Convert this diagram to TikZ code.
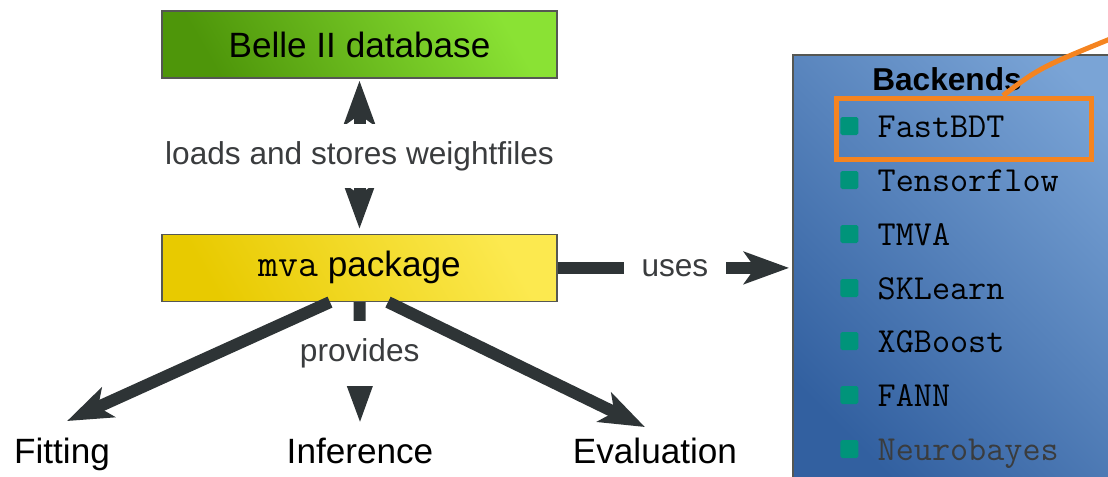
\documentclass[tikz,border=0pt]{standalone}
\usepackage{fontspec}
\setmainfont{Liberation Sans}
\usetikzlibrary{arrows.meta,positioning}

\definecolor{greendark}{RGB}{78,150,10}
\definecolor{greenlight}{RGB}{138,226,52}
\definecolor{yellowdark}{RGB}{232,202,0}
\definecolor{yellowlight}{RGB}{252,233,79}
\definecolor{bluedark}{RGB}{50,96,160}
\definecolor{bluelight}{RGB}{122,164,214}
\definecolor{arrowgray}{RGB}{46,52,54}
\definecolor{labelgray}{RGB}{58,60,62}
\definecolor{bordergray}{RGB}{85,87,83}
\definecolor{bulletteal}{RGB}{0,148,122}
\definecolor{hilite}{RGB}{245,132,32}

\begin{document}
\begin{tikzpicture}[-,thick,
    box/.style={rectangle,draw=bordergray,line width=0.8pt,minimum width=7.9cm,
                minimum height=1.34cm,font=\fontsize{20}{24}\selectfont},
    green box/.style={box,left color=greendark,right color=greenlight,shading angle=120},
    yellow box/.style={box,left color=yellowdark,right color=yellowlight,shading angle=120},
    backend box/.style={rectangle,draw=bordergray,line width=1pt,minimum width=7.68cm,
                minimum height=9cm,left color=bluedark,right color=bluelight,shading angle=135},
    gap label/.style={fill=white,inner sep=0.35cm,text=labelgray,font=\fontsize{18}{22}\selectfont},
    target/.style={inner sep=0pt,text height=0.5cm,text depth=0.15cm,font=\fontsize{20}{24}\selectfont},
    item/.style={anchor=west,inner sep=0pt,text height=0.44cm,text depth=0cm,
                font=\fontsize{20}{24}\selectfont\ttfamily,
                label={[fill=bulletteal,rounded corners=1pt,minimum size=0.36cm,inner sep=0pt,
                        label distance=0.36cm]left:{}}},
    fat arrow/.style={draw=arrowgray,line width=0.24cm,
                -{Stealth[length=0.9cm,width=0.64cm,inset=0.22cm]}}]

  \path[use as bounding box,clip] (0,0) rectangle (22.16,-9.52);

  \node[green box] (belle) at (7.19,-0.89) {Belle II database};
  \node[yellow box] (mva) [below=3.1cm of belle] {{\fontsize{22}{24}\selectfont\ttfamily mva} package};

  \node[target] (fitting) at (1.24,-9.1) {Fitting};
  \node[target] (inference) at (7.2,-9.1) {Inference};
  \node[target] (evaluation) at (13.1,-9.1) {Evaluation};

  \node[backend box] (backends) at (19.7,-5.6) {};
  \node[font=\fontsize{18}{22}\selectfont\bfseries] (title) at (18.94,-1.58) {Backends};
  \node[item] (fastbdt) at (17.54,-2.52) {FastBDT};
  \node[item] (tensorflow) at (17.54,-3.6) {Tensorflow};
  \node[item] (tmva) at (17.54,-4.68) {TMVA};
  \node[item] (sklearn) at (17.54,-5.76) {SKLearn};
  \node[item] (xgboost) at (17.54,-6.82) {XGBoost};
  \node[item] (fann) at (17.54,-7.9) {FANN};
  \node[item,text=labelgray] (neurobayes) at (17.54,-8.98) {Neurobayes};

  \node[draw=hilite,line width=0.1cm,minimum width=5.1cm,minimum height=1.22cm] (pick) at (19.27,-2.57) {};
  \coordinate (zoomend) at (22.4,-0.7);
  \draw[hilite,line width=0.1cm] ([xshift=0.79cm]pick.north) .. controls (20.8,-1.35) .. (zoomend);

  \path[every edge/.style={fat arrow}]
    (mva.north) edge[{Stealth[length=0.9cm,width=0.64cm,inset=0.22cm]}-{Stealth[length=0.9cm,width=0.64cm,inset=0.22cm]},
                     shorten <=0.1cm,shorten >=0.04cm]
        node[gap label] {loads and stores weightfiles} (belle.south)
    (mva.east) edge[shorten >=0.06cm] node[gap label] {uses} (mva.east -| backends.west)
    (mva.south) edge node[gap label,pos=0.43] {provides} ([yshift=0.32cm]inference.north)
    ([xshift=-0.59cm]mva.south) edge ([xshift=0.1cm,yshift=0.34cm]fitting.north)
    ([xshift=0.57cm]mva.south) edge ([xshift=-0.2cm,yshift=0.22cm]evaluation.north);
\end{tikzpicture}
\end{document}
